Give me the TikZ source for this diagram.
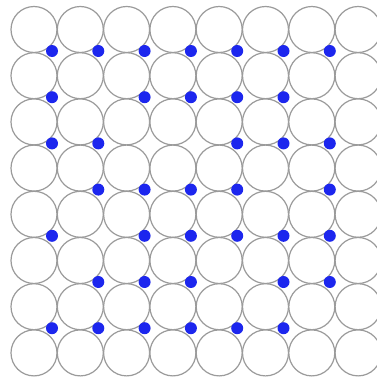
\documentclass[tikz,border=0pt]{standalone}
\definecolor{ringgray}{RGB}{155,155,155}
\definecolor{dotblue}{RGB}{28,38,238}
\begin{document}
\begin{tikzpicture}[x=1pt,y=-1pt,
  atom/.style={circle,draw=ringgray,line width=1.2pt,fill=white,minimum size=46pt,inner sep=0pt,outer sep=0pt},
  dot/.style={circle,fill=dotblue,minimum size=12pt,inner sep=0pt,outer sep=0pt}]
\useasboundingbox[fill=white] (0,0) rectangle (377,378);
\clip (0,0) rectangle (377,378);
\foreach \r in {0,...,7}{
  \foreach \c in {0,...,7}{
    \node[atom] (a-\r-\c) at ({34+46.3*\c},{29.5+46.2*\r}) {};
  }
}
% rows of interstitial dots: gap row -> list of gap columns
\foreach \r/\cols in {0/{0,1,2,3,4,5,6},1/{0,2,3,4,5},2/{0,1,4,5,6},3/{1,2,3,4,6},4/{0,2,3,4,5,6},5/{1,2,3,5,6},6/{0,1,2,3,4,5}}{
  \foreach \c in \cols{
    \node[dot] (d-\r-\c) at ({52+46.3*\c},{51+46.2*\r}) {};
  }
}
\end{tikzpicture}
\end{document}
